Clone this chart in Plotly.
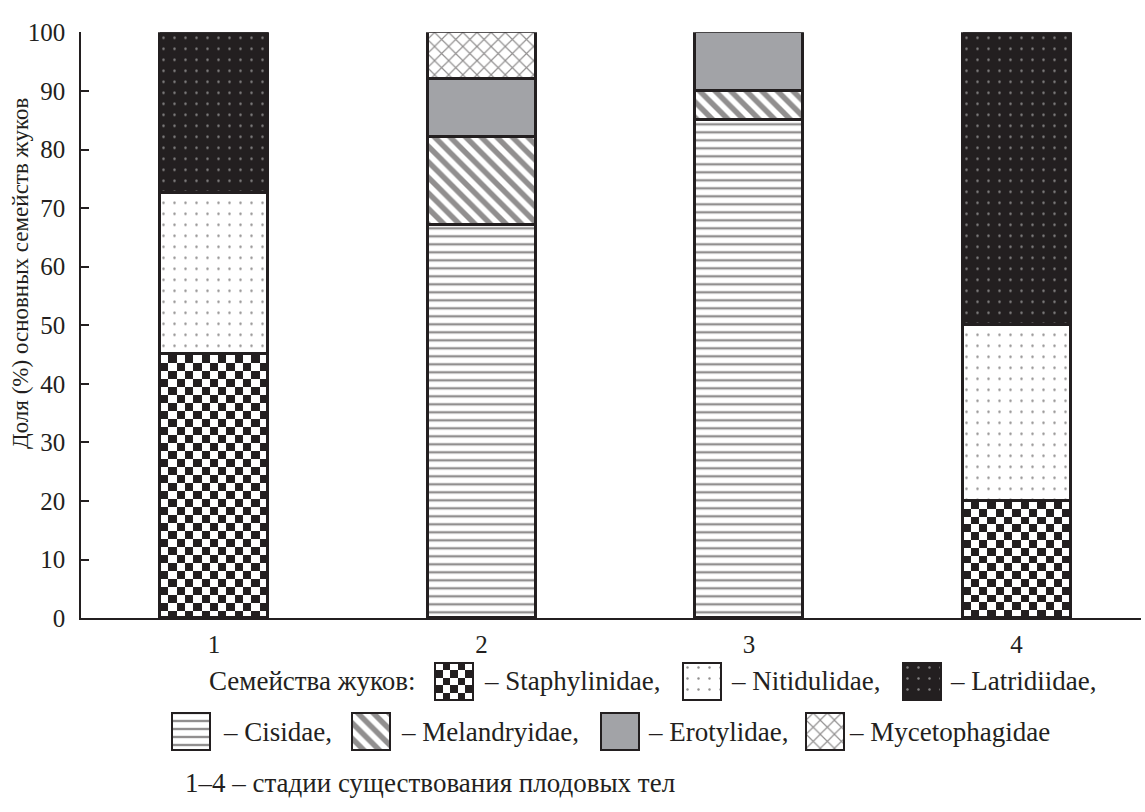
import numpy as np
import plotly.graph_objects as go

# ---- data: share (%) of the main beetle families at each fruit-body stage ----
stages = [1, 2, 3, 4]
stage_labels = ["1", "2", "3", "4"]
y_ticks = [0, 10, 20, 30, 40, 50, 60, 70, 80, 90, 100]

staphylinidae = [45, None, None, 20]
nitidulidae = [27.5, None, None, 30]
latridiidae = [27.5, None, None, 50]
cisidae = [None, 67, 85, None]
melandryidae = [None, 15, 5, None]
erotylidae = [None, 10, 10, None]
mycetophagidae = [None, 8, None, None]

family_names = ["Staphylinidae", "Nitidulidae", "Latridiidae", "Cisidae",
                "Melandryidae", "Erotylidae", "Mycetophagidae"]
family_values = [staphylinidae, nitidulidae, latridiidae, cisidae,
                 melandryidae, erotylidae, mycetophagidae]

# ---- styling ----
INK = "#231f20"
FONT = "Liberation Serif"
W, H = 1145, 812
PLOT_L, PLOT_R, PLOT_T, PLOT_B = 81, 1141, 20, 626
STEP_PX = 267.5          # pixel distance between neighbouring stages
BAR_PX = 108             # bar width in pixels
X0 = 1 - (214 - PLOT_L) / STEP_PX
X1 = X0 + (PLOT_R - PLOT_L) / STEP_PX
BAR_W = BAR_PX / STEP_PX
PX_PER_UNIT = (PLOT_B - PLOT_T) / 100.0
CHECK = "checker"        # drawn as a heatmap texture underneath the bar outline

styles = {
    "Staphylinidae": dict(kind=CHECK),
    "Nitidulidae": dict(color="white", pattern=dict(shape=".", fgcolor=INK, bgcolor="white",
                                                    size=11, solidity=0.04)),
    "Latridiidae": dict(color=INK, pattern=dict(shape=".", fgcolor="#e6e6e6", bgcolor=INK,
                                                size=11, solidity=0.04)),
    "Cisidae": dict(color="white", pattern=dict(shape="-", fgcolor=INK, bgcolor="white",
                                                size=8, solidity=0.3)),
    "Melandryidae": dict(color="white", pattern=dict(shape="\\", fgcolor=INK, bgcolor="white",
                                                     size=11, solidity=0.5)),
    "Erotylidae": dict(color="#a2a3a7", pattern=None),
    "Mycetophagidae": dict(color="white", pattern=dict(shape="x", fgcolor=INK, bgcolor="white",
                                                       size=10, solidity=0.22)),
}

CHECK_SCALE = [[0, "white"], [0.5, "white"], [0.5, INK], [1, INK]]


def checkerboard(xl, xr, yb, yt, ncols, nrows):
    xe = np.linspace(xl, xr, ncols + 1)
    ye = np.linspace(yb, yt, nrows + 1)
    z = (np.add.outer(np.arange(nrows), np.arange(ncols)) % 2).astype(float)
    return xe, ye, z


fig = go.Figure()

# ---- checkerboard texture for Staphylinidae segments ----
bases = np.zeros(len(stages))
for name, vals in zip(family_names, family_values):
    v = np.array([np.nan if a is None else a for a in vals], dtype=float)
    if styles[name].get("kind") == CHECK:
        for i, s in enumerate(stages):
            if np.isnan(v[i]):
                continue
            nrows = max(1, int(round(v[i] * PX_PER_UNIT / (BAR_PX / 13))))
            xe, ye, z = checkerboard(s - BAR_W / 2, s + BAR_W / 2, bases[i], bases[i] + v[i], 13, nrows)
            fig.add_trace(go.Heatmap(x=xe, y=ye, z=z, colorscale=CHECK_SCALE, zmin=0, zmax=1,
                                     showscale=False, hoverinfo="skip", xaxis="x", yaxis="y"))
    bases = bases + np.nan_to_num(v)

# ---- stacked bars ----
for name, vals in zip(family_names, family_values):
    st = styles[name]
    if st.get("kind") == CHECK:
        marker = dict(color="rgba(0,0,0,0)", line=dict(color=INK, width=3))
    else:
        marker = dict(color=st["color"], line=dict(color=INK, width=3))
        if st["pattern"] is not None:
            marker["pattern"] = st["pattern"]
    fig.add_trace(go.Bar(x=stages, y=vals, name=name, width=BAR_W, marker=marker,
                         showlegend=False, xaxis="x", yaxis="y"))

# ---- legend drawn in a pixel-unit overlay axis ----
swatches = {
    "Staphylinidae": (454, 672, 711),
    "Nitidulidae": (702, 672, 711),
    "Latridiidae": (922, 672, 711),
    "Cisidae": (191, 724, 762),
    "Melandryidae": (371, 724, 762),
    "Erotylidae": (620, 724, 762),
    "Mycetophagidae": (825, 724, 762),
}
SW = 38
for name in family_names:
    cx, top, bot = swatches[name]
    st = styles[name]
    if st.get("kind") == CHECK:
        xe, ye, z = checkerboard(cx - SW / 2, cx + SW / 2, top, bot, 5, 5)
        fig.add_trace(go.Heatmap(x=xe, y=ye, z=z, colorscale=CHECK_SCALE, zmin=0, zmax=1,
                                 showscale=False, hoverinfo="skip", xaxis="x2", yaxis="y2"))
        marker = dict(color="rgba(0,0,0,0)", line=dict(color=INK, width=2.5))
    else:
        marker = dict(color=st["color"], line=dict(color=INK, width=2.5))
        if st["pattern"] is not None:
            marker["pattern"] = st["pattern"]
    fig.add_trace(go.Bar(x=[cx], y=[bot - top], base=[top], width=SW, marker=marker,
                         showlegend=False, hoverinfo="skip", xaxis="x2", yaxis="y2"))

text_font = dict(family=FONT, size=27, color=INK)
legend_texts = [
    ("Семейства жуков:", 207, 691),
    ("– Staphylinidae,", 482, 691),
    ("– Nitidulidae,", 729, 691),
    ("– Latridiidae,", 948, 691),
    ("– Cisidae,", 221, 744),
    ("– Melandryidae,", 399, 744),
    ("– Erotylidae,", 646, 744),
    ("– Mycetophagidae", 847, 744),
    ("1–4 – стадии существования плодовых тел", 183, 796),
]
for txt, x, y in legend_texts:
    fig.add_annotation(text=txt, x=x, y=y, xref="x2", yref="y2", xanchor="left",
                       yanchor="middle", showarrow=False, font=text_font)

# y-axis title
fig.add_annotation(text="Доля (%) основных семейств жуков", x=20 / W, y=1 - 270 / H,
                   xref="paper", yref="paper", textangle=-90, showarrow=False,
                   xanchor="center", yanchor="middle", font=dict(family=FONT, size=23, color=INK))

fig.update_layout(
    width=W, height=H,
    margin=dict(l=0, r=0, t=0, b=0),
    paper_bgcolor="white", plot_bgcolor="rgba(0,0,0,0)",
    barmode="stack", bargap=0,
    showlegend=False,
    font=dict(family=FONT, size=25, color=INK),
    xaxis=dict(domain=[PLOT_L / W, PLOT_R / W], range=[X0, X1],
               tickmode="array", tickvals=stages, ticktext=stage_labels,
               showline=True, linecolor=INK, linewidth=1.5, ticks="",
               showgrid=False, zeroline=False, ticklabelstandoff=3,
               tickfont=dict(family=FONT, size=25, color=INK)),
    yaxis=dict(domain=[1 - PLOT_B / H, 1 - PLOT_T / H], range=[0, 100],
               tickmode="array", tickvals=y_ticks,
               showline=True, linecolor=INK, linewidth=1.5,
               ticks="inside", ticklen=8, tickwidth=1.5, tickcolor=INK,
               showgrid=False, zeroline=False, ticklabelstandoff=9,
               tickfont=dict(family=FONT, size=25, color=INK)),
    xaxis2=dict(domain=[0, 1], range=[0, W], visible=False, anchor="y2", fixedrange=True),
    yaxis2=dict(domain=[0, 1], range=[H, 0], visible=False, anchor="x2", fixedrange=True),
)

fig.write_html("out.html")
